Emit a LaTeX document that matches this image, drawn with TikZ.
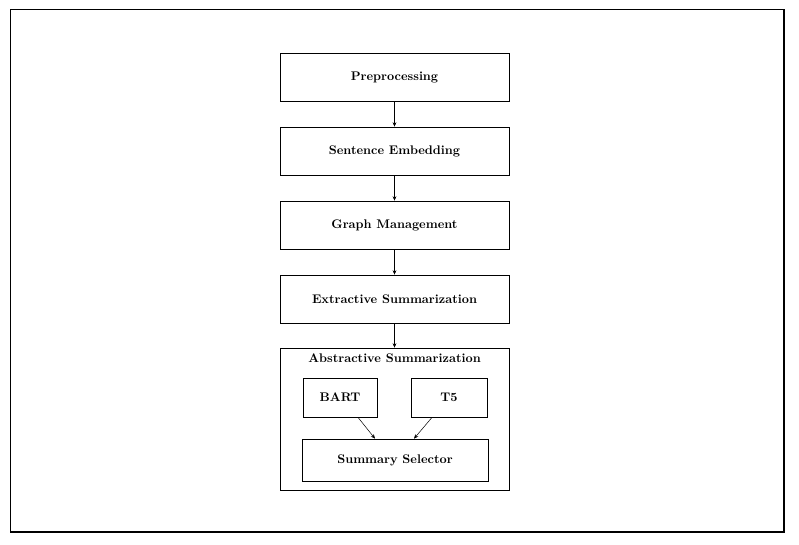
\documentclass[tikz,border=0pt]{standalone}
\usetikzlibrary{calc,arrows.meta}
\begin{document}
\begin{tikzpicture}[x=0.8pt,y=-0.8pt,
  stagebox/.style={draw,line width=0.6pt,minimum width=229*0.8pt,minimum height=48*0.8pt,inner sep=0pt,font=\bfseries},
  innerbox/.style={draw,line width=0.6pt,inner sep=0pt,font=\bfseries},
  flow/.style={-{Stealth[length=3.5pt,width=3pt]},line width=0.4pt}]
\useasboundingbox (0,0) rectangle (799,544);
\draw[line width=1pt] (10.5,9.5) rectangle (784,532);
\node[stagebox] (pre) at (394.5,77) {Preprocessing};
\node[stagebox] (emb) at (394.5,151) {Sentence Embedding};
\node[stagebox] (graph) at (394.5,225) {Graph Management};
\node[stagebox] (ext) at (394.5,299) {Extractive Summarization};
\node[draw,line width=0.6pt,minimum width=229*0.8pt,minimum height=142*0.8pt,inner sep=0pt] (abs) at (394.5,419) {};
\node[font=\bfseries,anchor=center] (abstitle) at (394.5,358) {Abstractive Summarization};
\node[innerbox,minimum width=74*0.8pt,minimum height=39*0.8pt] (bart) at (340,397.5) {BART};
\node[innerbox,minimum width=76*0.8pt,minimum height=39*0.8pt] (t5) at (449,397.5) {T5};
\node[innerbox,minimum width=186*0.8pt,minimum height=42*0.8pt] (sel) at (395,460) {Summary Selector};
\draw[flow] (pre) -- (emb);
\draw[flow] (emb) -- (graph);
\draw[flow] (graph) -- (ext);
\draw[flow] (ext) -- (abs);
\draw[flow] ($(bart.south)+(18,0)$) -- ($(sel.north)+(-20,0)$);
\draw[flow] ($(t5.south)+(-17,0)$) -- ($(sel.north)+(19,0)$);
\end{tikzpicture}
\end{document}
